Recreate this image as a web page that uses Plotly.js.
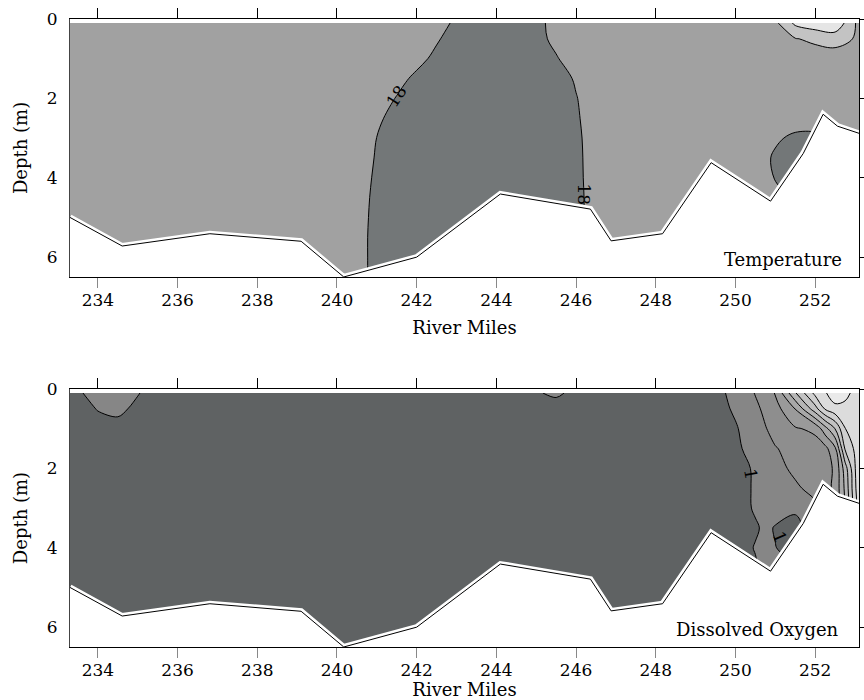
<!DOCTYPE html>
<html><head><meta charset="utf-8">
<script src="https://cdn.plot.ly/plotly-3.0.1.min.js"></script>
<style>html,body{margin:0;padding:0;background:#fff}</style>
</head><body>
<div id="chart" style="width:864px;height:700px"></div>
<script>
// ---------- shared data ----------
const mileRange = [233.3, 253.1];
const depthRange = [6.5, 0];
const mileTicks = [234, 236, 238, 240, 242, 244, 246, 248, 250, 252];
const depthTicks = [0, 2, 4, 6];

// river bed profile (depth in m at river mile)
const bedMiles = [233.3, 234.61, 236.81, 239.1, 240.17, 242.0, 244.1, 246.36, 246.88, 248.17, 249.39, 250.88, 251.7, 252.2, 252.56, 253.1];
const bedDepth = [5.0, 5.72, 5.41, 5.6, 6.5, 6.0, 4.41, 4.79, 5.59, 5.41, 3.62, 4.59, 3.39, 2.40, 2.70, 2.88];

// ---------- temperature section ----------
const tempMiles = [233.3, 236, 239, 240, 240.5, 241, 241.5, 242, 242.5, 243, 243.5, 244, 244.5, 245, 245.5, 246, 246.5, 247, 248, 249, 250, 250.5, 251, 251.5, 252, 252.5, 253.1];
const tempDepths = [0.1, 0.5, 1, 1.5, 2, 2.5, 3, 3.5, 4, 4.5, 5, 5.5, 6, 6.5];
const temp_d01 = [18.5,18.5,18.5,18.5,18.5,18.5,18.5,18.5,18.34,17.84,17.5,17.5,17.5,17.77,18.27,18.5,18.5,18.5,18.5,18.5,18.5,18.5,18.8,20.2,20.6,20.8,18.7];
const temp_d05 = [18.5,18.5,18.5,18.5,18.5,18.5,18.5,18.5,18.1,17.6,17.5,17.5,17.5,17.72,18.22,18.5,18.5,18.5,18.5,18.5,18.5,18.5,18.5,18.95,19.2,19.4,18.85];
const temp_d10 = [18.5,18.5,18.5,18.5,18.5,18.5,18.5,18.28,17.78,17.5,17.5,17.5,17.5,17.5,17.93,18.43,18.5,18.5,18.5,18.5,18.5,18.5,18.5,18.5,18.5,18.5,18.5];
const temp_d15 = [18.5,18.5,18.5,18.5,18.5,18.5,18.3,17.8,17.5,17.5,17.5,17.5,17.5,17.5,17.6,18.1,18.5,18.5,18.5,18.5,18.5,18.5,18.5,18.5,18.5,18.5,18.5];
const temp_d20 = [18.5,18.5,18.5,18.5,18.5,18.45,17.95,17.5,17.5,17.5,17.5,17.5,17.5,17.5,17.5,17.96,18.46,18.5,18.5,18.5,18.5,18.5,18.5,18.5,18.5,18.5,18.5];
const temp_d25 = [18.5,18.5,18.5,18.5,18.5,18.17,17.67,17.5,17.5,17.5,17.5,17.5,17.5,17.5,17.5,17.9,18.4,18.5,18.5,18.5,18.5,18.5,18.5,18.5,18.5,18.5,18.5];
const temp_d30 = [18.5,18.5,18.5,18.5,18.49,17.99,17.5,17.5,17.5,17.5,17.5,17.5,17.5,17.5,17.5,17.85,18.35,18.5,18.5,18.5,18.5,18.5,18.15,17.8,17.8,18.5,18.5];
const temp_d35 = [18.5,18.5,18.5,18.5,18.43,17.93,17.5,17.5,17.5,17.5,17.5,17.5,17.5,17.5,17.5,17.83,18.33,18.5,18.5,18.5,18.5,18.5,17.85,17.7,17.8,18.5,18.5];
const temp_d40 = [18.5,18.5,18.5,18.5,18.37,17.87,17.5,17.5,17.5,17.5,17.5,17.5,17.5,17.5,17.5,17.82,18.32,18.5,18.5,18.5,18.5,18.5,17.95,17.8,17.8,18.5,18.5];
const temp_d45 = [18.5,18.5,18.5,18.5,18.32,17.82,17.5,17.5,17.5,17.5,17.5,17.5,17.5,17.5,17.5,17.8,18.3,18.5,18.5,18.5,18.5,18.5,18.3,17.8,17.8,18.5,18.5];
const temp_d50 = [18.5,18.5,18.5,18.5,18.29,17.79,17.5,17.5,17.5,17.5,17.5,17.5,17.5,17.5,17.5,17.8,18.3,18.5,18.5,18.5,18.5,18.5,18.3,17.8,17.8,18.5,18.5];
const temp_d55 = [18.5,18.5,18.5,18.5,18.27,17.77,17.5,17.5,17.5,17.5,17.5,17.5,17.5,17.5,17.5,17.8,18.3,18.5,18.5,18.5,18.5,18.5,18.3,17.8,17.8,18.5,18.5];
const temp_d60 = [18.5,18.5,18.5,18.5,18.27,17.77,17.5,17.5,17.5,17.5,17.5,17.5,17.5,17.5,17.5,17.8,18.3,18.5,18.5,18.5,18.5,18.5,18.3,17.8,17.8,18.5,18.5];
const temp_d65 = [18.5,18.5,18.5,18.5,18.27,17.77,17.5,17.5,17.5,17.5,17.5,17.5,17.5,17.5,17.5,17.8,18.3,18.5,18.5,18.5,18.5,18.5,18.3,17.8,17.8,18.5,18.5];
const tempLevels = {start: 18, end: 20, size: 1};
const tempColors = ['#737778', '#a1a1a1', '#c3c3c3', '#e5e5e5'];
// contour labels on the 18 °C isotherm
const tempLabelText = ['18', '18'];
const tempLabelMiles = [241.5, 246.2];
const tempLabelDepths = [1.95, 4.42];
const tempLabelAngles = [-57, 90];

// ---------- dissolved oxygen section ----------
const oxyMiles = [233.3, 233.5, 234, 234.5, 235, 235.5, 236, 240, 244, 245, 245.5, 246, 248, 249, 249.5, 250, 250.5, 250.75, 251, 251.5, 252, 252.25, 252.5, 252.75, 253.1];
const oxyDepths = [0.1, 0.5, 1, 1.5, 2, 2.5, 3, 3.5, 4, 4.5, 5, 6.5];
const oxy_d01 = [0.7,0.9,1.3,1.4,1.05,0.6,0.5,0.5,0.5,0.9,1.2,0.7,0.5,0.5,0.75,1.25,2.05,2.55,3.05,5.9,8.3,8.9,9.6,9.3,8.5];
const oxy_d05 = [0.5,0.6,1.05,1.2,0.8,0.5,0.5,0.5,0.5,0.5,0.5,0.5,0.5,0.5,0.6,1.15,1.8,2.2,2.6,4.02,6.6,8.1,8.7,8.7,8.3];
const oxy_d10 = [0.5,0.5,0.6,0.7,0.5,0.5,0.5,0.5,0.5,0.5,0.5,0.5,0.5,0.5,0.5,0.9,1.6,1.95,2.3,2.9,3.2,4.6,6.02,7.98,8.4];
const oxy_d15 = [0.5,0.5,0.5,0.5,0.5,0.5,0.5,0.5,0.5,0.5,0.5,0.5,0.5,0.5,0.45,0.8,1.4,1.68,1.95,2.3,2.6,2.7,3.8,7.1,8.6];
const oxy_d20 = [0.5,0.5,0.5,0.5,0.5,0.5,0.5,0.5,0.5,0.5,0.5,0.5,0.5,0.5,0.4,0.7,1.1,1.4,1.7,2.2,2.5,2.75,3.1,5.5,8.9];
const oxy_d25 = [0.5,0.5,0.5,0.5,0.5,0.5,0.5,0.5,0.5,0.5,0.5,0.5,0.5,0.5,0.4,0.65,1.1,1.3,1.5,1.85,2.3,2.7,3.2,5.2,8.8];
const oxy_d30 = [0.5,0.5,0.5,0.5,0.5,0.5,0.5,0.5,0.5,0.5,0.5,0.5,0.5,0.5,0.4,0.6,1.1,1.25,1.3,1.15,1.8,2.5,3.2,5.0,8.5];
const oxy_d35 = [0.5,0.5,0.5,0.5,0.5,0.5,0.5,0.5,0.5,0.5,0.5,0.5,0.5,0.5,0.4,0.6,0.9,1.15,0.95,0.7,1.5,2.0,3.0,5.0,8.5];
const oxy_d40 = [0.5,0.5,0.5,0.5,0.5,0.5,0.5,0.5,0.5,0.5,0.5,0.5,0.5,0.5,0.4,0.6,1.05,1.2,1.02,0.7,1.5,2.0,3.0,5.0,8.5];
const oxy_d45 = [0.5,0.5,0.5,0.5,0.5,0.5,0.5,0.5,0.5,0.5,0.5,0.5,0.5,0.5,0.4,0.6,0.9,1.2,1.2,0.98,1.5,2.0,3.0,5.0,8.5];
const oxy_d50 = [0.5,0.5,0.5,0.5,0.5,0.5,0.5,0.5,0.5,0.5,0.5,0.5,0.5,0.5,0.4,0.5,0.6,0.8,0.9,0.9,1.5,2.0,3.0,5.0,8.5];
const oxy_d65 = [0.5,0.5,0.5,0.5,0.5,0.5,0.5,0.5,0.5,0.5,0.5,0.5,0.5,0.5,0.4,0.5,0.6,0.8,0.9,0.9,1.5,2.0,3.0,5.0,8.5];
const oxyLevels = {start: 1, end: 9, size: 1};
const oxyColors = ['#5f6263','#868686','#8e8e8e','#9a9a9a','#a8a8a8','#b5b5b5','#c2c2c2','#cfcfcf','#dcdcdc','#eaeaea'];
// contour labels on the 1 mg/L line
const oxyLabelText = ['1', '1'];
const oxyLabelMiles = [250.38, 251.12];
const oxyLabelDepths = [2.15, 3.72];
const oxyLabelAngles = [80, 67];

// ---------- build ----------
const tempZ = [temp_d01,temp_d05,temp_d10,temp_d15,temp_d20,temp_d25,temp_d30,temp_d35,temp_d40,temp_d45,temp_d50,temp_d55,temp_d60,temp_d65];
const oxyZ = [oxy_d01,oxy_d05,oxy_d10,oxy_d15,oxy_d20,oxy_d25,oxy_d30,oxy_d35,oxy_d40,oxy_d45,oxy_d50,oxy_d65];

const serif = 'DejaVu Serif';

function evenScale(colors) {
  return colors.map((c, i) => [i / (colors.length - 1), c]);
}

function sectionTraces(xa, ya, miles, depths, z, levels, colors) {
  const common = {type: 'contour', x: miles, y: depths, z: z, xaxis: xa, yaxis: ya,
                  autocontour: false, showscale: false, hoverinfo: 'skip'};
  return [
    Object.assign({}, common, {
      contours: {start: levels.start, end: levels.end, size: levels.size, coloring: 'fill', showlines: false},
      colorscale: evenScale(colors), line: {width: 0, smoothing: 1}
    }),
    Object.assign({}, common, {
      contours: {start: levels.start, end: levels.end, size: levels.size, coloring: 'none', showlines: true},
      line: {color: '#000', width: 1, smoothing: 1}
    }),
    { // ground below the river bed
      type: 'scatter', mode: 'lines', xaxis: xa, yaxis: ya,
      x: bedMiles.concat([254, 232.5]), y: bedDepth.concat([7.5, 7.5]),
      fill: 'toself', fillcolor: '#ffffff', line: {color: '#ffffff', width: 6},
      hoverinfo: 'skip', showlegend: false
    },
    { // river bed line
      type: 'scatter', mode: 'lines', xaxis: xa, yaxis: ya,
      x: bedMiles, y: bedDepth, line: {color: '#000', width: 1},
      hoverinfo: 'skip', showlegend: false
    }
  ];
}

const data = []
  .concat(sectionTraces('x', 'y', tempMiles, tempDepths, tempZ, tempLevels, tempColors))
  .concat(sectionTraces('x2', 'y2', oxyMiles, oxyDepths, oxyZ, oxyLevels, oxyColors))
  .concat([
    {type: 'scatter', x: [], y: [], xaxis: 'x3', yaxis: 'y3', showlegend: false, hoverinfo: 'skip'},
    {type: 'scatter', x: [], y: [], xaxis: 'x4', yaxis: 'y4', showlegend: false, hoverinfo: 'skip'}
  ]);

const tickFont = {family: serif, size: 17, color: '#000'};
const titleFont = {family: serif, size: 18, color: '#000'};

function bottomAxis(anchor) {
  return {anchor: anchor, range: mileRange, tickvals: mileTicks, ticktext: mileTicks.map(String),
          ticks: 'outside', ticklen: 10, tickcolor: '#888', tickwidth: 1, ticklabelstandoff: -2,
          showline: true, linecolor: '#000', linewidth: 1, showgrid: false, zeroline: false,
          tickfont: tickFont,
          title: {text: 'River Miles', font: titleFont, standoff: 12},
          fixedrange: true};
}
function leftAxis(anchor, domain) {
  return {anchor: anchor, domain: domain, range: depthRange, tickvals: depthTicks, ticktext: depthTicks.map(String),
          ticks: 'outside', ticklen: 8, tickcolor: 'rgba(0,0,0,0)',
          showline: true, linecolor: '#444', linewidth: 1, showgrid: false, zeroline: false,
          tickfont: tickFont,
          title: {text: 'Depth (m)', font: titleFont, standoff: 14},
          fixedrange: true};
}
function topAxis(over, anchor) {
  return {overlaying: over, anchor: anchor, side: 'top', range: mileRange, tickvals: mileTicks,
          ticks: 'outside', ticklen: 10, tickcolor: '#000', tickwidth: 1, showticklabels: false,
          showline: true, linecolor: '#000', linewidth: 1, showgrid: false, zeroline: false, fixedrange: true};
}
function rightAxis(over, anchor) {
  return {overlaying: over, anchor: anchor, side: 'right', range: depthRange, tickvals: depthTicks,
          ticks: 'outside', ticklen: 8, tickcolor: '#000', tickwidth: 1, showticklabels: false,
          showline: true, linecolor: '#000', linewidth: 1, showgrid: false, zeroline: false, fixedrange: true};
}

function contourLabels(xa, ya, texts, miles, depths, angles) {
  return texts.map((t, i) => ({
    text: t, xref: xa, yref: ya, x: miles[i], y: depths[i], textangle: angles[i],
    showarrow: false, xanchor: 'center', yanchor: 'middle',
    font: {family: serif, size: 17, color: '#000'}
  }));
}

const layout = {
  width: 864, height: 700,
  margin: {l: 70, r: 5, t: 19, b: 53},
  paper_bgcolor: '#fff', plot_bgcolor: '#fff',
  showlegend: false,
  xaxis: bottomAxis('y'),
  yaxis: leftAxis('x', [0.5892, 1]),
  xaxis2: bottomAxis('y2'),
  yaxis2: leftAxis('x2', [0, 0.4108]),
  xaxis3: topAxis('x', 'y3'),
  yaxis3: rightAxis('y', 'x3'),
  xaxis4: topAxis('x2', 'y4'),
  yaxis4: rightAxis('y2', 'x4'),
  annotations: [
    {text: 'Temperature', xref: 'x domain', yref: 'y domain', x: 1, y: 0, xanchor: 'right', yanchor: 'bottom',
     xshift: -15, yshift: 5, showarrow: false, font: titleFont},
    {text: 'Dissolved Oxygen', xref: 'x2 domain', yref: 'y2 domain', x: 1, y: 0, xanchor: 'right', yanchor: 'bottom',
     xshift: -18, yshift: 5, showarrow: false, font: titleFont}
  ].concat(contourLabels('x', 'y', tempLabelText, tempLabelMiles, tempLabelDepths, tempLabelAngles))
   .concat(contourLabels('x2', 'y2', oxyLabelText, oxyLabelMiles, oxyLabelDepths, oxyLabelAngles))
};

Plotly.newPlot('chart', data, layout, {staticPlot: true, displayModeBar: false});
</script></body></html>
